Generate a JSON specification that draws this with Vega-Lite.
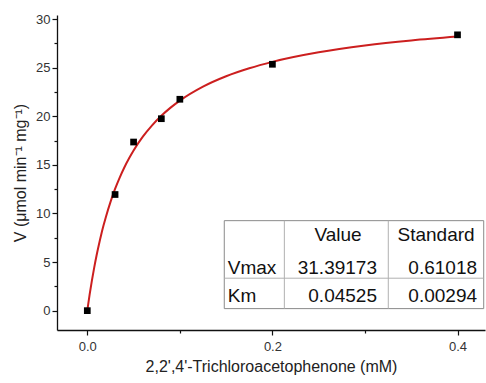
{
  "$schema": "https://vega.github.io/schema/vega-lite/v6.json",
  "width": 428,
  "height": 315,
  "autosize": {"type": "none"},
  "padding": {"left": 57, "top": 15, "right": 1, "bottom": 53},
  "background": "white",
  "config": {
    "view": {"stroke": null},
    "font": "Liberation Sans",
    "axis": {
      "grid": false,
      "domainColor": "#111",
      "domainWidth": 1.3,
      "tickColor": "#111",
      "tickWidth": 1.2,
      "labelFont": "Liberation Sans",
      "labelFontSize": 13,
      "labelColor": "#333",
      "titleFont": "Liberation Sans",
      "titleFontSize": 16,
      "titleFontWeight": "normal",
      "titleColor": "#222"
    }
  },
  "datasets": {
    "points": [
      {"x": 0, "y": 0},
      {"x": 0.03, "y": 11.95},
      {"x": 0.05, "y": 17.35},
      {"x": 0.08, "y": 19.75},
      {"x": 0.1, "y": 21.75},
      {"x": 0.2, "y": 25.35},
      {"x": 0.4, "y": 28.38}
    ],
    "curve": [
      {"x": 0, "y": 0},
      {"x": 0.001, "y": 0.68},
      {"x": 0.0025, "y": 1.64},
      {"x": 0.005, "y": 3.12},
      {"x": 0.0075, "y": 4.46},
      {"x": 0.01, "y": 5.68},
      {"x": 0.0125, "y": 6.79},
      {"x": 0.015, "y": 7.82},
      {"x": 0.0175, "y": 8.75},
      {"x": 0.02, "y": 9.62},
      {"x": 0.025, "y": 11.17},
      {"x": 0.03, "y": 12.52},
      {"x": 0.035, "y": 13.69},
      {"x": 0.04, "y": 14.73},
      {"x": 0.045, "y": 15.65},
      {"x": 0.05, "y": 16.48},
      {"x": 0.06, "y": 17.9},
      {"x": 0.07, "y": 19.07},
      {"x": 0.08, "y": 20.05},
      {"x": 0.09, "y": 20.89},
      {"x": 0.1, "y": 21.61},
      {"x": 0.125, "y": 23.05},
      {"x": 0.15, "y": 24.12},
      {"x": 0.175, "y": 24.94},
      {"x": 0.2, "y": 25.6},
      {"x": 0.25, "y": 26.58},
      {"x": 0.3, "y": 27.28},
      {"x": 0.35, "y": 27.8},
      {"x": 0.4, "y": 28.2}
    ],
    "tableBox": [
      {"x": 0.148, "x2": 0.4283, "y": 9.26, "y2": 0.21}
    ],
    "tableLines": [
      {"x": 0.2129, "x2": 0.2129, "y": 9.26, "y2": 0.21},
      {"x": 0.3252, "x2": 0.3252, "y": 9.26, "y2": 0.21},
      {"x": 0.148, "x2": 0.4283, "y": 3.34, "y2": 3.34}
    ],
    "tableText": [
      {"role": "header", "x": 0.2709, "y": 7.17, "label": "Value"},
      {"role": "header", "x": 0.3768, "y": 7.17, "label": "Standard"},
      {"role": "rowname", "x": 0.1517, "y": 3.78, "label": "Vmax"},
      {"role": "rowname", "x": 0.1517, "y": 0.84, "label": "Km"},
      {"role": "value", "x": 0.313, "y": 3.78, "label": "31.39173"},
      {"role": "value", "x": 0.313, "y": 0.84, "label": "0.04525"},
      {"role": "value", "x": 0.4211, "y": 3.78, "label": "0.61018"},
      {"role": "value", "x": 0.4211, "y": 0.84, "label": "0.00294"}
    ]
  },
  "encoding": {
    "x": {
      "field": "x",
      "type": "quantitative",
      "scale": {"domain": [-0.03274, 0.4297], "nice": false, "zero": false},
      "axis": {
        "values": [0, 0.1, 0.2, 0.3, 0.4],
        "labelExpr": "round(datum.value*10) % 2 == 1 ? '' : format(datum.value, '.1f')",
        "tickSize": {"condition": {"test": "round(datum.value*10) % 2 == 1", "value": 3}, "value": 5},
        "labelPadding": 5,
        "title": "2,2',4'-Trichloroacetophenone (mM)",
        "titlePadding": 5
      }
    },
    "y": {
      "field": "y",
      "type": "quantitative",
      "scale": {"domain": [-1.99, 30.42], "nice": false, "zero": false},
      "axis": {
        "values": [0, 2.5, 5, 7.5, 10, 12.5, 15, 17.5, 20, 22.5, 25, 27.5, 30],
        "labelExpr": "datum.value % 5 == 0 ? datum.label : ''",
        "tickSize": {"condition": {"test": "datum.value % 5 != 0", "value": 3}, "value": 5},
        "labelPadding": 2,
        "title": "V (μmol min⁻¹ mg⁻¹)",
        "titlePadding": 7
      }
    }
  },
  "layer": [
    {
      "data": {"name": "tableBox"},
      "mark": {"type": "rect", "fill": "white", "stroke": "#8a8a8a", "strokeWidth": 1},
      "encoding": {"x2": {"field": "x2"}, "y2": {"field": "y2"}}
    },
    {
      "data": {"name": "tableLines"},
      "mark": {"type": "rule", "stroke": "#b0b0b0", "strokeWidth": 1},
      "encoding": {"x2": {"field": "x2"}, "y2": {"field": "y2"}}
    },
    {
      "data": {"name": "curve"},
      "mark": {"type": "line", "color": "#cc1f1f", "strokeWidth": 2, "interpolate": "monotone"},
      "encoding": {}
    },
    {
      "data": {"name": "points"},
      "mark": {"type": "point", "shape": "square", "filled": true, "color": "#000", "size": 45, "opacity": 1}
    },
    {
      "data": {"name": "tableText"},
      "transform": [{"filter": "datum.role == 'header'"}],
      "mark": {"type": "text", "align": "center", "baseline": "alphabetic", "fontSize": 19, "font": "Liberation Sans", "color": "#111"},
      "encoding": {"text": {"field": "label"}}
    },
    {
      "data": {"name": "tableText"},
      "transform": [{"filter": "datum.role == 'rowname'"}],
      "mark": {"type": "text", "align": "left", "baseline": "alphabetic", "fontSize": 19, "font": "Liberation Sans", "color": "#111"},
      "encoding": {"text": {"field": "label"}}
    },
    {
      "data": {"name": "tableText"},
      "transform": [{"filter": "datum.role == 'value'"}],
      "mark": {"type": "text", "align": "right", "baseline": "alphabetic", "fontSize": 19, "font": "Liberation Sans", "color": "#111"},
      "encoding": {"text": {"field": "label"}}
    }
  ]
}
